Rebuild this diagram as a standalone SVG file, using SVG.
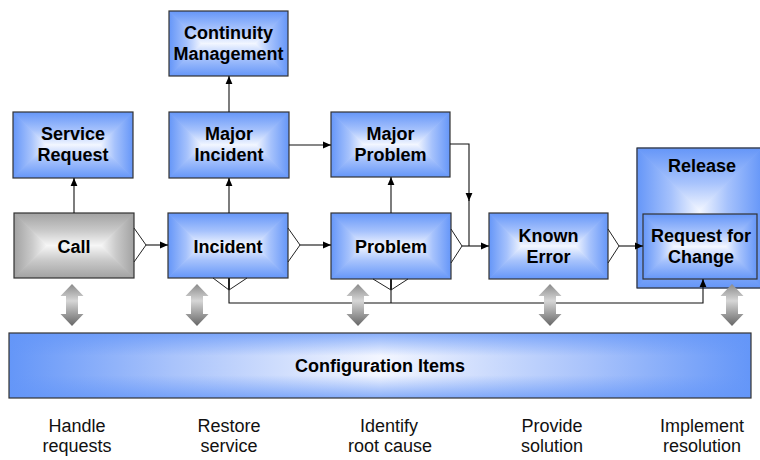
<svg xmlns="http://www.w3.org/2000/svg" xmlns:xlink="http://www.w3.org/1999/xlink" width="760" height="460" viewBox="0 0 760 460">
  <defs>
    <style>
      .lbl { font-family: "Liberation Sans", Arial, sans-serif; font-size: 18px; font-weight: bold; fill: #000; text-anchor: middle; }
      .cap { font-family: "Liberation Sans", Arial, sans-serif; font-size: 18px; fill: #111; text-anchor: middle; }
      .frame { fill: none; stroke: #333; stroke-width: 1.2; }
      .wire { fill: none; stroke: #111; stroke-width: 1.1; }
      .foot { fill: none; stroke: #222; stroke-width: 1; }
      .arr { marker-end: url(#ah); }
    </style>
    <!-- blue box shading: four facets, edge colour to pale centre -->
    <linearGradient id="bT" x1="0" y1="0" x2="0" y2="1"><stop offset="0" stop-color="#6596f8"/><stop offset="0.55" stop-color="#a6c2fc"/><stop offset="1" stop-color="#f2f6ff"/></linearGradient>
    <linearGradient id="bB" x1="0" y1="1" x2="0" y2="0"><stop offset="0" stop-color="#6596f8"/><stop offset="0.55" stop-color="#a6c2fc"/><stop offset="1" stop-color="#f2f6ff"/></linearGradient>
    <linearGradient id="bL" x1="0" y1="0" x2="1" y2="0"><stop offset="0" stop-color="#6596f8"/><stop offset="0.55" stop-color="#a6c2fc"/><stop offset="1" stop-color="#f2f6ff"/></linearGradient>
    <linearGradient id="bR" x1="1" y1="0" x2="0" y2="0"><stop offset="0" stop-color="#6596f8"/><stop offset="0.55" stop-color="#a6c2fc"/><stop offset="1" stop-color="#f2f6ff"/></linearGradient>
    <!-- grey box shading -->
    <linearGradient id="gT" x1="0" y1="0" x2="0" y2="1"><stop offset="0" stop-color="#a2a2a2"/><stop offset="0.55" stop-color="#cacaca"/><stop offset="1" stop-color="#f6f6f6"/></linearGradient>
    <linearGradient id="gB" x1="0" y1="1" x2="0" y2="0"><stop offset="0" stop-color="#a2a2a2"/><stop offset="0.55" stop-color="#cacaca"/><stop offset="1" stop-color="#f6f6f6"/></linearGradient>
    <linearGradient id="gL" x1="0" y1="0" x2="1" y2="0"><stop offset="0" stop-color="#a2a2a2"/><stop offset="0.55" stop-color="#cacaca"/><stop offset="1" stop-color="#f6f6f6"/></linearGradient>
    <linearGradient id="gR" x1="1" y1="0" x2="0" y2="0"><stop offset="0" stop-color="#a2a2a2"/><stop offset="0.55" stop-color="#cacaca"/><stop offset="1" stop-color="#f6f6f6"/></linearGradient>
    <!-- bar shading -->
    <linearGradient id="barH" x1="0" y1="0" x2="1" y2="0">
      <stop offset="0" stop-color="#6496f8"/><stop offset="0.22" stop-color="#a9c3fb"/><stop offset="0.5" stop-color="#f3f6ff"/><stop offset="0.78" stop-color="#a9c3fb"/><stop offset="1" stop-color="#6496f8"/>
    </linearGradient>
    <linearGradient id="barV" x1="0" y1="0" x2="0" y2="1">
      <stop offset="0" stop-color="#6496f8" stop-opacity="0.75"/><stop offset="0.35" stop-color="#6496f8" stop-opacity="0"/><stop offset="0.65" stop-color="#6496f8" stop-opacity="0"/><stop offset="1" stop-color="#6496f8" stop-opacity="0.75"/>
    </linearGradient>
    <!-- grey double arrow -->
    <linearGradient id="dbl" x1="0" y1="0" x2="0" y2="1">
      <stop offset="0" stop-color="#8a8a8a"/><stop offset="0.4" stop-color="#d6d6d6"/><stop offset="1" stop-color="#666"/>
    </linearGradient>
    <path id="twoway" d="M0,0 L11.5,12 L6,12 L6,30 L11.5,30 L0,42 L-11.5,30 L-6,30 L-6,12 L-11.5,12 Z" fill="url(#dbl)"/>
    <symbol id="tileBlue" viewBox="0 0 120 66" preserveAspectRatio="none">
      <polygon points="0,0 120,0 87,33 33,33" fill="url(#bT)" stroke="url(#bT)" stroke-width="0.8"/>
      <polygon points="0,66 120,66 87,33 33,33" fill="url(#bB)" stroke="url(#bB)" stroke-width="0.8"/>
      <polygon points="0,0 33,33 0,66" fill="url(#bL)" stroke="url(#bL)" stroke-width="0.8"/>
      <polygon points="120,0 87,33 120,66" fill="url(#bR)" stroke="url(#bR)" stroke-width="0.8"/>
    </symbol>
    <symbol id="tileGrey" viewBox="0 0 120 66" preserveAspectRatio="none">
      <polygon points="0,0 120,0 87,33 33,33" fill="url(#gT)" stroke="url(#gT)" stroke-width="0.8"/>
      <polygon points="0,66 120,66 87,33 33,33" fill="url(#gB)" stroke="url(#gB)" stroke-width="0.8"/>
      <polygon points="0,0 33,33 0,66" fill="url(#gL)" stroke="url(#gL)" stroke-width="0.8"/>
      <polygon points="120,0 87,33 120,66" fill="url(#gR)" stroke="url(#gR)" stroke-width="0.8"/>
    </symbol>
    <marker id="ah" markerUnits="userSpaceOnUse" markerWidth="8" markerHeight="8" viewBox="0 0 8 8" refX="8" refY="4" orient="auto">
      <path d="M0,0.6 L8,4 L0,7.4 Z" fill="#000"/>
    </marker>
  </defs>

  <rect width="760" height="460" fill="#fff"/>

  <!-- Release container with nested Request for Change -->
  <g id="release">
    <polygon points="637,148 762,148 699.5,210.5" fill="url(#bT)" stroke="url(#bT)" stroke-width="0.8"/>
    <polygon points="637,288 762,288 699.5,225.5" fill="url(#bB)" stroke="url(#bB)" stroke-width="0.8"/>
    <polygon points="637,148 699.5,210.5 699.5,225.5 637,288" fill="url(#bL)" stroke="url(#bL)" stroke-width="0.8"/>
    <polygon points="762,148 699.5,210.5 699.5,225.5 762,288" fill="url(#bR)" stroke="url(#bR)" stroke-width="0.8"/>
    <rect class="frame" x="637" y="148" width="125" height="140"/>
    <text class="lbl" x="702" y="172">Release</text>
  </g>
  <g id="rfc">
    <use xlink:href="#tileBlue" x="643" y="214" width="114" height="65"/>
    <rect class="frame" x="643" y="214" width="114" height="65"/>
    <text class="lbl" x="701" y="241.5">Request for</text>
    <text class="lbl" x="701" y="262.5">Change</text>
  </g>

  <g id="service-request">
    <use xlink:href="#tileBlue" x="13" y="112" width="120" height="66"/>
    <rect class="frame" x="13" y="112" width="120" height="66"/>
    <text class="lbl" x="73" y="140">Service</text>
    <text class="lbl" x="73" y="161">Request</text>
  </g>
  <g id="call">
    <use xlink:href="#tileGrey" x="14" y="213" width="120" height="65"/>
    <rect class="frame" x="14" y="213" width="120" height="65"/>
    <text class="lbl" x="74" y="252.5">Call</text>
  </g>
  <g id="continuity">
    <use xlink:href="#tileBlue" x="169" y="11" width="119" height="65"/>
    <rect class="frame" x="169" y="11" width="119" height="65"/>
    <text class="lbl" x="228.5" y="38.5">Continuity</text>
    <text class="lbl" x="228.5" y="59.5">Management</text>
  </g>
  <g id="major-incident">
    <use xlink:href="#tileBlue" x="169" y="112" width="120" height="66"/>
    <rect class="frame" x="169" y="112" width="120" height="66"/>
    <text class="lbl" x="229" y="140">Major</text>
    <text class="lbl" x="229" y="161">Incident</text>
  </g>
  <g id="incident">
    <use xlink:href="#tileBlue" x="168" y="213" width="120" height="65"/>
    <rect class="frame" x="168" y="213" width="120" height="65"/>
    <text class="lbl" x="228" y="252.5">Incident</text>
  </g>
  <g id="major-problem">
    <use xlink:href="#tileBlue" x="331" y="112" width="119" height="65"/>
    <rect class="frame" x="331" y="112" width="119" height="65"/>
    <text class="lbl" x="390.5" y="140">Major</text>
    <text class="lbl" x="390.5" y="161">Problem</text>
  </g>
  <g id="problem">
    <use xlink:href="#tileBlue" x="331" y="213" width="120" height="66"/>
    <rect class="frame" x="331" y="213" width="120" height="66"/>
    <text class="lbl" x="391" y="253">Problem</text>
  </g>
  <g id="known-error">
    <use xlink:href="#tileBlue" x="489" y="213" width="119" height="66"/>
    <rect class="frame" x="489" y="213" width="119" height="66"/>
    <text class="lbl" x="548.5" y="241.5">Known</text>
    <text class="lbl" x="548.5" y="262.5">Error</text>
  </g>

  <g id="configuration-items">
    <rect x="9" y="333" width="742" height="65" fill="url(#barH)"/>
    <rect x="9" y="333" width="742" height="65" fill="url(#barV)"/>
    <rect class="frame" x="9" y="333" width="742" height="65"/>
    <text class="lbl" x="380" y="372">Configuration Items</text>
  </g>

  <g id="connectors">
    <!-- main flow with crow's-foot tails -->
    <polyline class="foot" points="134,228 146,245 134,262"/>
    <line class="wire arr" x1="146" y1="245" x2="168" y2="245"/>
    <polyline class="foot" points="288,228 300,245 288,262"/>
    <line class="wire arr" x1="300" y1="245" x2="331" y2="245"/>
    <polyline class="foot" points="451,229 462,246 451,263"/>
    <line class="wire arr" x1="462" y1="246" x2="489" y2="246"/>
    <polyline class="foot" points="608,229 619,246 608,263"/>
    <line class="wire arr" x1="619" y1="246" x2="643" y2="246"/>
    <!-- escalations -->
    <line class="wire arr" x1="74" y1="213" x2="74" y2="178"/>
    <line class="wire arr" x1="229" y1="213" x2="229" y2="178"/>
    <line class="wire arr" x1="229" y1="112" x2="229" y2="76"/>
    <line class="wire arr" x1="289" y1="145" x2="331" y2="145"/>
    <line class="wire arr" x1="391" y1="213" x2="391" y2="177"/>
    <path class="wire arr" d="M450,144 H469 V201"/>
    <line class="wire" x1="469" y1="200" x2="469" y2="246"/>
    <!-- feedback bus to Request for Change -->
    <polyline class="foot" points="213,278 229,290 247,278"/>
    <line x1="229" y1="278" x2="229" y2="290" stroke="#222" stroke-width="2"/>
    <polyline class="foot" points="373,279 391,290 408,279"/>
    <line x1="391" y1="279" x2="391" y2="290" stroke="#222" stroke-width="2"/>
    <path class="wire arr" d="M229,290 V303 H703 V279"/>
    <line class="wire" x1="391" y1="290" x2="391" y2="303"/>
    <!-- links to configuration items -->
    <use xlink:href="#twoway" x="72" y="284"/>
    <use xlink:href="#twoway" x="197" y="284"/>
    <use xlink:href="#twoway" x="358" y="284"/>
    <use xlink:href="#twoway" x="550" y="284"/>
    <use xlink:href="#twoway" x="732" y="284"/>
  </g>

  <g id="stages">
    <text class="cap" x="77" y="432">Handle</text>
    <text class="cap" x="77" y="452">requests</text>
    <text class="cap" x="229" y="432">Restore</text>
    <text class="cap" x="229" y="452">service</text>
    <text class="cap" x="389" y="432">Identify</text>
    <text class="cap" x="390" y="452">root cause</text>
    <text class="cap" x="552" y="432">Provide</text>
    <text class="cap" x="552" y="452">solution</text>
    <text class="cap" x="702" y="432">Implement</text>
    <text class="cap" x="702" y="452">resolution</text>
  </g>
</svg>
